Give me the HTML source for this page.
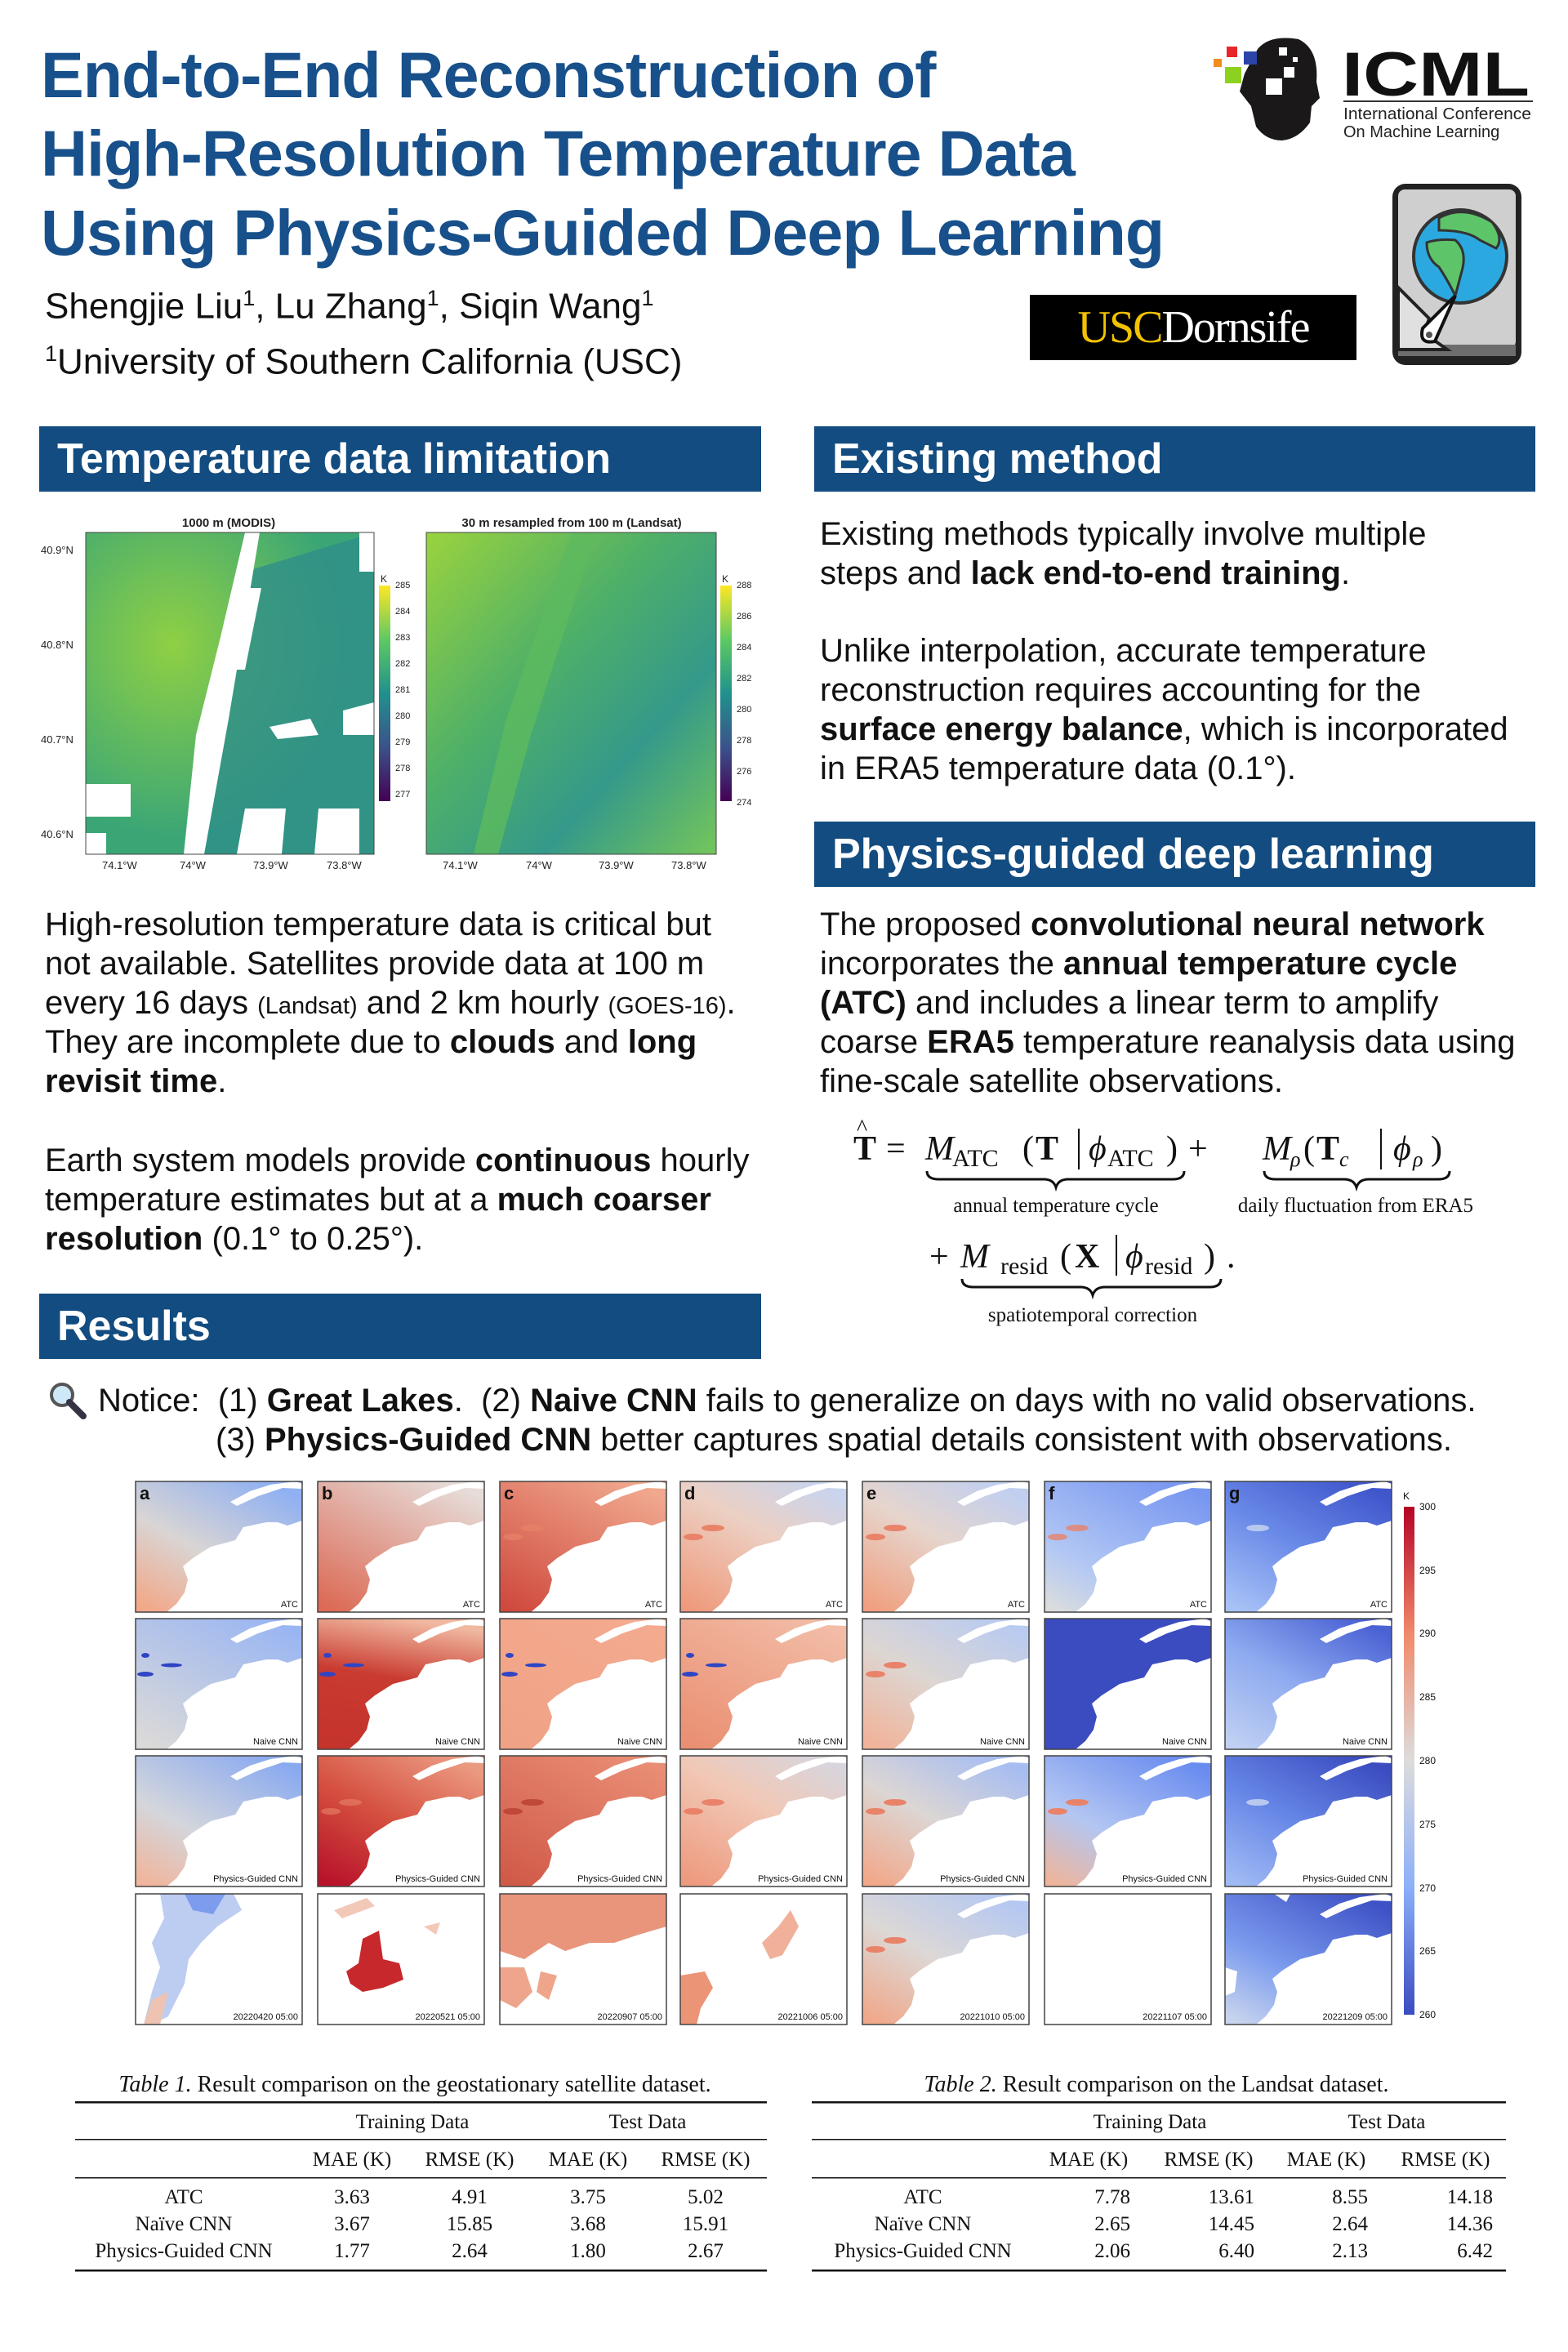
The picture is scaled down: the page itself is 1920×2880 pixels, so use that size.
<!DOCTYPE html>
<html><head><meta charset="utf-8">
<style>
*{margin:0;padding:0;box-sizing:border-box}
body{width:1920px;height:2880px;background:#fff;position:relative;font-family:"Liberation Sans","DejaVu Sans",sans-serif;color:#111;overflow:hidden}
.abs{position:absolute;white-space:nowrap}
.title{left:50px;font-weight:bold;font-size:79px;line-height:96px;color:#17508a;letter-spacing:-1px}
.hdr{position:absolute;background:#134c80;color:#fff;font-weight:bold;font-size:52px;padding-left:22px;line-height:80px}
.p{position:absolute;font-size:40px;line-height:48px;white-space:nowrap}
.serif{font-family:"Liberation Serif","DejaVu Serif",serif}
</style></head><body>

<div class="abs title" style="top:44px">End-to-End Reconstruction of</div>
<div class="abs title" style="top:140px">High-Resolution Temperature Data</div>
<div class="abs title" style="top:237px">Using Physics-Guided Deep Learning</div>
<div class="abs" style="left:55px;top:350px;font-size:44px">Shengjie Liu<sup style="font-size:27px">1</sup>, Lu Zhang<sup style="font-size:27px">1</sup>, Siqin Wang<sup style="font-size:27px">1</sup></div>
<div class="abs" style="left:55px;top:418px;font-size:44px"><sup style="font-size:27px">1</sup>University of Southern California (USC)</div>

<!-- USC Dornsife -->
<div class="abs serif" style="left:1261px;top:361px;width:400px;height:80px;background:#000;font-size:56px;line-height:80px;text-align:center;letter-spacing:-2px"><span style="color:#f2c200">USC</span><span style="color:#fff">Dornsife</span></div>

<!-- ICML logo -->
<svg class="abs" style="left:1480px;top:30px" width="420" height="160" viewBox="0 0 420 160">
<path d="M60 30 Q75 12 110 18 Q135 30 132 70 L136 90 L126 100 L124 120 Q110 140 90 142 Q70 142 58 125 L52 100 L38 82 L44 60 Z" fill="#1a1818"/>
<rect x="22" y="27" width="13" height="13" fill="#e8262a"/><rect x="43" y="33" width="16" height="16" fill="#2b44a8"/>
<rect x="6" y="42" width="10" height="10" fill="#f28c1c"/><rect x="20" y="52" width="20" height="20" fill="#8dd120"/>
<rect x="86" y="28" width="10" height="10" fill="#fff"/><rect x="92" y="52" width="13" height="13" fill="#fff"/><rect x="70" y="66" width="20" height="20" fill="#fff"/><rect x="103" y="40" width="6" height="6" fill="#fff"/>
<text x="163" y="87" font-family="Liberation Sans" font-weight="bold" font-size="76" fill="#111" textLength="230" lengthAdjust="spacingAndGlyphs">ICML</text>
<rect x="165" y="93" width="232" height="2" fill="#333"/>
<text x="165" y="116" font-size="20" fill="#222" textLength="230" lengthAdjust="spacingAndGlyphs">International Conference</text>
<text x="165" y="138" font-size="20" fill="#222">On Machine Learning</text>
</svg>

<!-- globe icon -->
<svg class="abs" style="left:1702px;top:222px" width="166" height="230" viewBox="0 0 166 230">
<rect x="3" y="3" width="158" height="222" rx="16" fill="#222"/>
<rect x="10" y="10" width="144" height="194" rx="8" fill="#cfcfcf"/>
<rect x="10" y="200" width="144" height="14" fill="#6d6d6d"/>
<circle cx="86" cy="92" r="57" fill="#2ca8e0" stroke="#333" stroke-width="4"/>
<path d="M60 45 Q90 28 125 50 Q140 70 130 82 L110 72 Q95 60 60 60 Z" fill="#5ec46a" stroke="#333" stroke-width="3"/>
<path d="M45 75 Q60 70 80 72 Q95 85 88 110 L80 140 Q70 120 60 105 Q45 95 45 75Z" fill="#5ec46a" stroke="#333" stroke-width="3"/>
<path d="M10 130 L48 168 L42 186 L70 206 L10 206 Z" fill="#e0e0e0" stroke="#222" stroke-width="4"/>
<path d="M80 140 L40 180 Q35 200 55 196 Z" fill="#fff" stroke="#111" stroke-width="4"/>
<circle cx="48" cy="188" r="4" fill="#555"/>
</svg>

<!-- Section headers -->
<div class="hdr" style="left:48px;top:522px;width:884px">Temperature data limitation</div>
<div class="hdr" style="left:997px;top:522px;width:883px">Existing method</div>
<div class="hdr" style="left:997px;top:1006px;width:883px">Physics-guided deep learning</div>
<div class="hdr" style="left:48px;top:1584px;width:884px">Results</div>

<!-- Left figure: maps -->
<svg class="abs" style="left:40px;top:620px" width="900" height="460" viewBox="40 620 900 460" font-family="Liberation Sans" font-size="12" fill="#222">
<defs>
<linearGradient id="vir" x1="0" y1="1" x2="0" y2="0"><stop offset="0" stop-color="#440154"/><stop offset=".25" stop-color="#3b528b"/><stop offset=".5" stop-color="#21918c"/><stop offset=".75" stop-color="#5ec962"/><stop offset="1" stop-color="#fde725"/></linearGradient>
<radialGradient id="m1" cx=".3" cy=".35" r=".6"><stop offset="0" stop-color="#8fd044"/><stop offset="1" stop-color="#3aa676"/></radialGradient>
<linearGradient id="m2" x1="0" y1="0" x2="1" y2="1"><stop offset="0" stop-color="#9ad33e"/><stop offset=".4" stop-color="#4fb068"/><stop offset=".7" stop-color="#34998a"/><stop offset="1" stop-color="#75c65a"/></linearGradient>
</defs>
<text x="280" y="645" font-weight="bold" font-size="15" text-anchor="middle">1000 m (MODIS)</text>
<text x="700" y="645" font-weight="bold" font-size="15" text-anchor="middle">30 m resampled from 100 m (Landsat)</text>
<rect x="105" y="652" width="353" height="394" fill="url(#m1)"/>
<path d="M300 700 L458 652 L458 1046 L250 1046 Z" fill="#2f8f8a" opacity=".8"/>
<path d="M300 652 L318 652 L300 760 L280 880 L250 1046 L225 1046 L240 900 L270 780 Z" fill="#fff"/>
<path d="M300 720 L320 720 L300 820 L285 820 Z M330 890 L380 880 L390 900 L340 905 Z M300 990 L350 990 L345 1046 L290 1046 Z M390 990 L440 990 L440 1046 L385 1046 Z M105 960 L160 960 L160 1000 L105 1000 Z M105 1020 L130 1020 L130 1046 L105 1046 Z M420 870 L458 860 L458 900 L420 900Z M440 652 L458 652 L458 700 L440 700Z" fill="#fff"/>
<rect x="105" y="652" width="353" height="394" fill="none" stroke="#444"/>
<rect x="464" y="717" width="14" height="264" fill="url(#vir)"/>
<text x="466" y="713">K</text>
<g font-size="11"><text x="484" y="720">285</text><text x="484" y="752">284</text><text x="484" y="784">283</text><text x="484" y="816">282</text><text x="484" y="848">281</text><text x="484" y="880">280</text><text x="484" y="912">279</text><text x="484" y="944">278</text><text x="484" y="976">277</text></g>
<g font-size="13"><text x="50" y="678">40.9°N</text><text x="50" y="794">40.8°N</text><text x="50" y="910">40.7°N</text><text x="50" y="1026">40.6°N</text>
<text x="125" y="1064">74.1°W</text><text x="220" y="1064">74°W</text><text x="310" y="1064">73.9°W</text><text x="400" y="1064">73.8°W</text>
<text x="542" y="1064">74.1°W</text><text x="644" y="1064">74°W</text><text x="733" y="1064">73.9°W</text><text x="822" y="1064">73.8°W</text></g>
<rect x="522" y="652" width="355" height="394" fill="url(#m2)"/>
<path d="M700 652 L730 652 L650 900 L610 1046 L580 1046 L620 880 Z" fill="#5cba5e" opacity=".8"/>
<rect x="522" y="652" width="355" height="394" fill="none" stroke="#444"/>
<rect x="882" y="717" width="14" height="264" fill="url(#vir)"/>
<text x="884" y="713">K</text>
<g font-size="11"><text x="902" y="720">288</text><text x="902" y="758">286</text><text x="902" y="796">284</text><text x="902" y="834">282</text><text x="902" y="872">280</text><text x="902" y="910">278</text><text x="902" y="948">276</text><text x="902" y="986">274</text></g>
</svg>

<!-- Right column texts -->
<div class="p" style="left:1004px;top:630px">Existing methods typically involve multiple</div>
<div class="p" style="left:1004px;top:678px">steps and <b>lack end-to-end training</b>.</div>
<div class="p" style="left:1004px;top:773px">Unlike interpolation, accurate temperature</div>
<div class="p" style="left:1004px;top:821px">reconstruction requires accounting for the</div>
<div class="p" style="left:1004px;top:869px"><b>surface energy balance</b>, which is incorporated</div>
<div class="p" style="left:1004px;top:917px">in ERA5 temperature data (0.1°).</div>

<div class="p" style="left:1004px;top:1108px">The proposed <b>convolutional neural network</b></div>
<div class="p" style="left:1004px;top:1156px">incorporates the <b>annual temperature cycle</b></div>
<div class="p" style="left:1004px;top:1204px"><b>(ATC)</b> and includes a linear term to amplify</div>
<div class="p" style="left:1004px;top:1252px">coarse <b>ERA5</b> temperature reanalysis data using</div>
<div class="p" style="left:1004px;top:1300px">fine-scale satellite observations.</div>

<!-- Equation -->
<svg class="abs" style="left:1000px;top:1360px" width="880" height="280" viewBox="0 0 880 280" font-family="Liberation Serif" fill="#111">
<g font-size="42">
<text x="45" y="60" font-weight="bold">T</text><text x="49" y="30" font-size="28">^</text>
<text x="85" y="60">=</text>
<text x="133" y="60" font-style="italic">M</text><text x="166" y="68" font-size="30">ATC</text>
<text x="252" y="60">(</text><text x="268" y="60" font-weight="bold">T</text>
<rect x="320" y="22" width="2" height="50"/>
<text x="333" y="60" font-style="italic">ϕ</text><text x="356" y="68" font-size="30">ATC</text><text x="428" y="60">)</text>
<text x="455" y="60">+</text>
<text x="546" y="60" font-style="italic">M</text><text x="580" y="68" font-size="26" font-style="italic">ρ</text>
<text x="596" y="60">(</text><text x="612" y="60" font-weight="bold">T</text><text x="640" y="68" font-size="26" font-style="italic">c</text>
<rect x="690" y="22" width="2" height="50"/>
<text x="706" y="60" font-style="italic">ϕ</text><text x="730" y="68" font-size="26" font-style="italic">ρ</text><text x="752" y="60">)</text>
<text x="138" y="192">+</text>
<text x="176" y="192" font-style="italic">M</text><text x="225" y="200" font-size="30">resid</text>
<text x="298" y="192">(</text><text x="316" y="192" font-weight="bold">X</text>
<rect x="366" y="152" width="2" height="50"/>
<text x="378" y="192" font-style="italic">ϕ</text><text x="402" y="200" font-size="30">resid</text><text x="474" y="192">)</text><text x="502" y="192">.</text>
</g>
<g fill="none" stroke="#111" stroke-width="3">
<path d="M135 74 Q135 84 150 84 L278 84 Q290 84 293 94 Q296 84 308 84 L436 84 Q450 84 450 74"/>
<path d="M548 74 Q548 84 562 84 L646 84 Q658 84 661 94 Q664 84 676 84 L761 84 Q775 84 775 74"/>
<path d="M178 206 Q178 216 192 216 L323 216 Q335 216 338 226 Q341 216 353 216 L481 216 Q495 216 495 206"/>
</g>
<g font-size="25">
<text x="293" y="124" text-anchor="middle">annual temperature cycle</text>
<text x="660" y="124" text-anchor="middle">daily fluctuation from ERA5</text>
<text x="338" y="258" text-anchor="middle">spatiotemporal correction</text>
</g>
</svg>

<!-- Left column texts -->
<div class="p" style="left:55px;top:1108px">High-resolution temperature data is critical but</div>
<div class="p" style="left:55px;top:1156px">not available. Satellites provide data at 100 m</div>
<div class="p" style="left:55px;top:1204px">every 16 days <span style="font-size:29px">(Landsat)</span> and 2 km hourly <span style="font-size:29px">(GOES-16)</span>.</div>
<div class="p" style="left:55px;top:1252px">They are incomplete due to <b>clouds</b> and <b>long</b></div>
<div class="p" style="left:55px;top:1300px"><b>revisit time</b>.</div>
<div class="p" style="left:55px;top:1397px">Earth system models provide <b>continuous</b> hourly</div>
<div class="p" style="left:55px;top:1445px">temperature estimates but at a <b>much coarser</b></div>
<div class="p" style="left:55px;top:1493px"><b>resolution</b> (0.1° to 0.25°).</div>

<!-- Notice -->
<svg class="abs" style="left:58px;top:1690px" width="52" height="50" viewBox="0 0 52 50">
<circle cx="18" cy="18" r="13" fill="#cfe8f7" stroke="#555" stroke-width="4"/>
<path d="M27 27 L44 44" stroke="#334" stroke-width="8" stroke-linecap="round"/>
</svg>
<div class="p" style="left:120px;top:1691px">Notice:&nbsp; (1) <b>Great Lakes</b>.&nbsp; (2) <b>Naive CNN</b> fails to generalize on days with no valid observations.</div>
<div class="p" style="left:264px;top:1739px">(3) <b>Physics-Guided CNN</b> better captures spatial details consistent with observations.</div>

<!-- Results figure -->
<svg class="abs" style="left:0;top:1800px" width="1920" height="700" viewBox="0 1800 1920 700" font-family="Liberation Sans" fill="#111">
<defs>
<symbol id="oc" viewBox="0 0 204 160" width="204" height="160">
<path d="M204 48 L186 54 L174 50 L160 50 L132 56 L122 72 L92 80 L70 94 L58 104 L64 120 L60 136 L50 150 L38 160 L204 160 Z" fill="#fff"/>
<path d="M116 25 L140 12 L165 4 L196 0 L204 3 L204 9 L180 8 L150 18 L124 30 Z" fill="#fff"/>
</symbol>
<linearGradient id="cw" x1="0" y1="0" x2="0" y2="1"><stop offset="0" stop-color="#b40426"/><stop offset=".25" stop-color="#f08a6b"/><stop offset=".5" stop-color="#dddcdc"/><stop offset=".75" stop-color="#8caff8"/><stop offset="1" stop-color="#3b4cc0"/></linearGradient>
<linearGradient id="a1" x1=".8" y1="0" x2=".1" y2="1"><stop offset="0" stop-color="#8fb0f2"/><stop offset=".55" stop-color="#d9d5d4"/><stop offset="1" stop-color="#f2a889"/></linearGradient>
<linearGradient id="b1" x1=".8" y1="0" x2=".1" y2="1"><stop offset="0" stop-color="#e6dcd8"/><stop offset="1" stop-color="#dc6a55"/></linearGradient>
<linearGradient id="c1" x1=".8" y1="0" x2=".1" y2="1"><stop offset="0" stop-color="#f0a88e"/><stop offset="1" stop-color="#cf4a3e"/></linearGradient>
<linearGradient id="d1" x1=".8" y1="0" x2=".1" y2="1"><stop offset="0" stop-color="#c9d4ee"/><stop offset=".4" stop-color="#ecd0c3"/><stop offset="1" stop-color="#ef9a7c"/></linearGradient>
<linearGradient id="e1" x1=".8" y1="0" x2=".1" y2="1"><stop offset="0" stop-color="#c0cff0"/><stop offset=".45" stop-color="#e6d5cd"/><stop offset="1" stop-color="#f0a080"/></linearGradient>
<linearGradient id="f1" x1=".8" y1="0" x2=".1" y2="1"><stop offset="0" stop-color="#7796f0"/><stop offset=".7" stop-color="#b3c8f4"/><stop offset="1" stop-color="#dadcde"/></linearGradient>
<linearGradient id="g1" x1=".8" y1="0" x2=".1" y2="1"><stop offset="0" stop-color="#3f56cc"/><stop offset=".5" stop-color="#6a8ae8"/><stop offset="1" stop-color="#a8c2f6"/></linearGradient>
<linearGradient id="a2" x1=".8" y1="0" x2=".1" y2="1"><stop offset="0" stop-color="#9ab6f2"/><stop offset="1" stop-color="#dcdad8"/></linearGradient>
<linearGradient id="b2" x1=".5" y1="0" x2=".3" y2="1"><stop offset="0" stop-color="#f0b8a0"/><stop offset=".45" stop-color="#c93a30"/><stop offset="1" stop-color="#c5332c"/></linearGradient>
<linearGradient id="c2" x1=".8" y1="0" x2=".1" y2="1"><stop offset="0" stop-color="#f3aa8f"/><stop offset="1" stop-color="#f0a285"/></linearGradient>
<linearGradient id="d2" x1=".8" y1="0" x2=".1" y2="1"><stop offset="0" stop-color="#f2bca6"/><stop offset="1" stop-color="#ea8f72"/></linearGradient>
<linearGradient id="e2" x1=".8" y1="0" x2=".1" y2="1"><stop offset="0" stop-color="#b9cbf0"/><stop offset=".5" stop-color="#ddd6d2"/><stop offset="1" stop-color="#f1b399"/></linearGradient>
<linearGradient id="f2"><stop offset="0" stop-color="#3b4cc0"/><stop offset="1" stop-color="#3b4cc0"/></linearGradient>
<linearGradient id="g2" x1=".8" y1="0" x2=".1" y2="1"><stop offset="0" stop-color="#4a62d4"/><stop offset=".5" stop-color="#8eaaf0"/><stop offset="1" stop-color="#bfd0f2"/></linearGradient>
<linearGradient id="a3" x1=".8" y1="0" x2=".1" y2="1"><stop offset="0" stop-color="#8aaaf0"/><stop offset=".6" stop-color="#d4d6dc"/><stop offset="1" stop-color="#f0b59c"/></linearGradient>
<linearGradient id="b3" x1=".8" y1="0" x2=".1" y2="1"><stop offset="0" stop-color="#eb9a82"/><stop offset=".5" stop-color="#d5503f"/><stop offset="1" stop-color="#b8122a"/></linearGradient>
<linearGradient id="c3" x1=".8" y1="0" x2=".1" y2="1"><stop offset="0" stop-color="#e98d75"/><stop offset="1" stop-color="#d05a48"/></linearGradient>
<linearGradient id="d3" x1=".8" y1="0" x2=".1" y2="1"><stop offset="0" stop-color="#d8d5dc"/><stop offset=".4" stop-color="#f1c8b6"/><stop offset="1" stop-color="#ee9a7e"/></linearGradient>
<linearGradient id="e3" x1=".8" y1="0" x2=".1" y2="1"><stop offset="0" stop-color="#a6bdf2"/><stop offset=".5" stop-color="#dcd6d4"/><stop offset="1" stop-color="#f2a88a"/></linearGradient>
<linearGradient id="f3" x1=".8" y1="0" x2=".1" y2="1"><stop offset="0" stop-color="#6a8cf0"/><stop offset=".6" stop-color="#b3c6f2"/><stop offset="1" stop-color="#eeb59c"/></linearGradient>
<linearGradient id="g3" x1=".8" y1="0" x2=".1" y2="1"><stop offset="0" stop-color="#3b4cc0"/><stop offset=".5" stop-color="#6585e6"/><stop offset="1" stop-color="#a0baf4"/></linearGradient>
<linearGradient id="e4" x1=".8" y1="0" x2=".1" y2="1"><stop offset="0" stop-color="#b5c8f2"/><stop offset=".5" stop-color="#dcd8d6"/><stop offset="1" stop-color="#f0a88a"/></linearGradient>
<linearGradient id="g4" x1=".8" y1="0" x2=".1" y2="1"><stop offset="0" stop-color="#3e52c6"/><stop offset=".6" stop-color="#7c9cee"/><stop offset="1" stop-color="#c8d4ee"/></linearGradient>
<g id="lk"><ellipse cx="12" cy="45" rx="5" ry="3" fill="#2f45c4"/><ellipse cx="44" cy="57" rx="13" ry="2.5" fill="#2f45c4"/><ellipse cx="12" cy="68" rx="10" ry="3" fill="#2f45c4"/></g>
<g id="lk2"><ellipse cx="40" cy="57" rx="14" ry="4" fill="#e8836a"/><ellipse cx="16" cy="68" rx="12" ry="4" fill="#e8836a"/></g>
</defs>

<g font-size="11">
<g transform="translate(166,1814)"><rect width="204" height="160" fill="url(#a1)"/><use href="#oc"/><rect width="204" height="160" fill="none" stroke="#444" stroke-width="1.5"/><text x="5" y="22" font-weight="bold" font-size="22">a</text><text x="199" y="154" text-anchor="end">ATC</text></g>
<g transform="translate(389,1814)"><rect width="204" height="160" fill="url(#b1)"/><use href="#oc"/><rect width="204" height="160" fill="none" stroke="#444" stroke-width="1.5"/><text x="5" y="22" font-weight="bold" font-size="22">b</text><text x="199" y="154" text-anchor="end">ATC</text></g>
<g transform="translate(612,1814)"><rect width="204" height="160" fill="url(#c1)"/><use href="#lk2" opacity=".7"/><use href="#oc"/><rect width="204" height="160" fill="none" stroke="#444" stroke-width="1.5"/><text x="5" y="22" font-weight="bold" font-size="22">c</text><text x="199" y="154" text-anchor="end">ATC</text></g>
<g transform="translate(833,1814)"><rect width="204" height="160" fill="url(#d1)"/><use href="#lk2"/><use href="#oc"/><rect width="204" height="160" fill="none" stroke="#444" stroke-width="1.5"/><text x="5" y="22" font-weight="bold" font-size="22">d</text><text x="199" y="154" text-anchor="end">ATC</text></g>
<g transform="translate(1056,1814)"><rect width="204" height="160" fill="url(#e1)"/><use href="#lk2"/><use href="#oc"/><rect width="204" height="160" fill="none" stroke="#444" stroke-width="1.5"/><text x="5" y="22" font-weight="bold" font-size="22">e</text><text x="199" y="154" text-anchor="end">ATC</text></g>
<g transform="translate(1279,1814)"><rect width="204" height="160" fill="url(#f1)"/><use href="#lk2" opacity=".8"/><use href="#oc"/><rect width="204" height="160" fill="none" stroke="#444" stroke-width="1.5"/><text x="5" y="22" font-weight="bold" font-size="22">f</text><text x="199" y="154" text-anchor="end">ATC</text></g>
<g transform="translate(1500,1814)"><rect width="204" height="160" fill="url(#g1)"/><ellipse cx="40" cy="57" rx="14" ry="4" fill="#b9c9ee"/><use href="#oc"/><rect width="204" height="160" fill="none" stroke="#444" stroke-width="1.5"/><text x="5" y="22" font-weight="bold" font-size="22">g</text><text x="199" y="154" text-anchor="end">ATC</text></g>

<g transform="translate(166,1982)"><rect width="204" height="160" fill="url(#a2)"/><use href="#lk"/><use href="#oc"/><rect width="204" height="160" fill="none" stroke="#444" stroke-width="1.5"/><text x="199" y="154" text-anchor="end">Naive CNN</text></g>
<g transform="translate(389,1982)"><rect width="204" height="160" fill="url(#b2)"/><use href="#lk"/><use href="#oc"/><rect width="204" height="160" fill="none" stroke="#444" stroke-width="1.5"/><text x="199" y="154" text-anchor="end">Naive CNN</text></g>
<g transform="translate(612,1982)"><rect width="204" height="160" fill="url(#c2)"/><use href="#lk"/><use href="#oc"/><rect width="204" height="160" fill="none" stroke="#444" stroke-width="1.5"/><text x="199" y="154" text-anchor="end">Naive CNN</text></g>
<g transform="translate(833,1982)"><rect width="204" height="160" fill="url(#d2)"/><use href="#lk"/><use href="#oc"/><rect width="204" height="160" fill="none" stroke="#444" stroke-width="1.5"/><text x="199" y="154" text-anchor="end">Naive CNN</text></g>
<g transform="translate(1056,1982)"><rect width="204" height="160" fill="url(#e2)"/><use href="#lk2"/><use href="#oc"/><rect width="204" height="160" fill="none" stroke="#444" stroke-width="1.5"/><text x="199" y="154" text-anchor="end">Naive CNN</text></g>
<g transform="translate(1279,1982)"><rect width="204" height="160" fill="url(#f2)"/><use href="#oc"/><rect width="204" height="160" fill="none" stroke="#444" stroke-width="1.5"/><text x="199" y="154" text-anchor="end">Naive CNN</text></g>
<g transform="translate(1500,1982)"><rect width="204" height="160" fill="url(#g2)"/><use href="#oc"/><rect width="204" height="160" fill="none" stroke="#444" stroke-width="1.5"/><text x="199" y="154" text-anchor="end">Naive CNN</text></g>

<g transform="translate(166,2150)"><rect width="204" height="160" fill="url(#a3)"/><use href="#oc"/><rect width="204" height="160" fill="none" stroke="#444" stroke-width="1.5"/><text x="199" y="154" text-anchor="end">Physics-Guided CNN</text></g>
<g transform="translate(389,2150)"><rect width="204" height="160" fill="url(#b3)"/><use href="#lk2" opacity=".6"/><use href="#oc"/><rect width="204" height="160" fill="none" stroke="#444" stroke-width="1.5"/><text x="199" y="154" text-anchor="end">Physics-Guided CNN</text></g>
<g transform="translate(612,2150)"><rect width="204" height="160" fill="url(#c3)"/><ellipse cx="40" cy="57" rx="14" ry="4" fill="#c04838"/><ellipse cx="16" cy="68" rx="12" ry="4" fill="#c04838"/><use href="#oc"/><rect width="204" height="160" fill="none" stroke="#444" stroke-width="1.5"/><text x="199" y="154" text-anchor="end">Physics-Guided CNN</text></g>
<g transform="translate(833,2150)"><rect width="204" height="160" fill="url(#d3)"/><use href="#lk2"/><use href="#oc"/><rect width="204" height="160" fill="none" stroke="#444" stroke-width="1.5"/><text x="199" y="154" text-anchor="end">Physics-Guided CNN</text></g>
<g transform="translate(1056,2150)"><rect width="204" height="160" fill="url(#e3)"/><use href="#lk2"/><use href="#oc"/><rect width="204" height="160" fill="none" stroke="#444" stroke-width="1.5"/><text x="199" y="154" text-anchor="end">Physics-Guided CNN</text></g>
<g transform="translate(1279,2150)"><rect width="204" height="160" fill="url(#f3)"/><use href="#lk2"/><use href="#oc"/><rect width="204" height="160" fill="none" stroke="#444" stroke-width="1.5"/><text x="199" y="154" text-anchor="end">Physics-Guided CNN</text></g>
<g transform="translate(1500,2150)"><rect width="204" height="160" fill="url(#g3)"/><ellipse cx="40" cy="57" rx="14" ry="4" fill="#b9c9ee"/><use href="#oc"/><rect width="204" height="160" fill="none" stroke="#444" stroke-width="1.5"/><text x="199" y="154" text-anchor="end">Physics-Guided CNN</text></g>

<g transform="translate(166,2319)"><rect width="204" height="160" fill="#fff"/>
<path d="M30 0 L120 0 L130 20 L100 40 L80 60 L65 80 L60 110 L40 150 L20 160 L10 160 L20 120 L30 90 L20 60 L35 30 Z" fill="#b6c8f0" opacity=".9"/><path d="M60 0 L110 0 L95 25 L70 20Z" fill="#7d9cee"/><path d="M20 130 L40 120 L30 160 L10 160Z" fill="#efc3b1"/>
<rect width="204" height="160" fill="none" stroke="#444" stroke-width="1.5"/><text x="199" y="154" text-anchor="end">20220420 05:00</text></g>
<g transform="translate(389,2319)"><rect width="204" height="160" fill="#fff"/>
<path d="M55 55 L75 45 L80 80 L100 85 L105 105 L80 115 L55 120 L40 110 L35 95 L50 85 Z" fill="#c6282c"/><path d="M20 20 L60 5 L70 15 L30 30Z M130 40 L150 35 L145 50Z" fill="#f2c8b8"/>
<rect width="204" height="160" fill="none" stroke="#444" stroke-width="1.5"/><text x="199" y="154" text-anchor="end">20220521 05:00</text></g>
<g transform="translate(612,2319)"><rect width="204" height="160" fill="#fff"/>
<path d="M0 0 L204 0 L204 40 L170 50 L140 60 L110 60 L80 70 L60 60 L30 80 L0 70 Z" fill="#e9957c"/><path d="M0 90 L30 90 L40 120 L20 140 L0 130 Z M50 95 L70 100 L60 130 L45 120Z" fill="#efa58c"/>
<rect width="204" height="160" fill="none" stroke="#444" stroke-width="1.5"/><text x="199" y="154" text-anchor="end">20220907 05:00</text></g>
<g transform="translate(833,2319)"><rect width="204" height="160" fill="#fff"/>
<path d="M0 100 L30 95 L40 115 L25 140 L20 160 L0 160 Z" fill="#ec9476"/><path d="M100 60 L120 40 L135 20 L145 40 L125 75 L110 80Z" fill="#f0b09a"/>
<rect width="204" height="160" fill="none" stroke="#444" stroke-width="1.5"/><text x="199" y="154" text-anchor="end">20221006 05:00</text></g>
<g transform="translate(1056,2319)"><rect width="204" height="160" fill="url(#e4)"/><use href="#lk2"/><use href="#oc"/><rect width="204" height="160" fill="none" stroke="#444" stroke-width="1.5"/><text x="199" y="154" text-anchor="end">20221010 05:00</text></g>
<g transform="translate(1279,2319)"><rect width="204" height="160" fill="#fff"/><rect width="204" height="160" fill="none" stroke="#444" stroke-width="1.5"/><text x="199" y="154" text-anchor="end">20221107 05:00</text></g>
<g transform="translate(1500,2319)"><rect width="204" height="160" fill="url(#g4)"/><use href="#oc"/><path d="M0 90 L15 95 L12 120 L0 125Z M60 0 L80 0 L75 10Z" fill="#fff"/><rect width="204" height="160" fill="none" stroke="#444" stroke-width="1.5"/><text x="199" y="154" text-anchor="end">20221209 05:00</text></g>
</g>

<rect x="1719" y="1845" width="13" height="622" fill="url(#cw)"/>
<g font-size="12"><text x="1718" y="1836">K</text>
<text x="1738" y="1849">300</text><text x="1738" y="1927">295</text><text x="1738" y="2004">290</text><text x="1738" y="2082">285</text><text x="1738" y="2160">280</text><text x="1738" y="2238">275</text><text x="1738" y="2316">270</text><text x="1738" y="2393">265</text><text x="1738" y="2471">260</text></g>
</svg>

<!-- Tables -->
<svg class="abs" style="left:0;top:2520px" width="1920" height="300" viewBox="0 2520 1920 300" font-family="Liberation Serif" fill="#111" font-size="25">
<text x="508" y="2561" text-anchor="middle" font-size="28"><tspan font-style="italic">Table 1.</tspan> Result comparison on the geostationary satellite dataset.</text>
<rect x="92" y="2573" width="847" height="2.5"/><rect x="92" y="2619" width="847" height="1.5"/><rect x="92" y="2666" width="847" height="1.5"/><rect x="92" y="2779" width="847" height="2.5"/>
<text x="505" y="2606" text-anchor="middle">Training Data</text><text x="793" y="2606" text-anchor="middle">Test Data</text>
<text x="431" y="2652" text-anchor="middle">MAE (K)</text><text x="575" y="2652" text-anchor="middle">RMSE (K)</text><text x="720" y="2652" text-anchor="middle">MAE (K)</text><text x="864" y="2652" text-anchor="middle">RMSE (K)</text>
<g text-anchor="middle">
<text x="225" y="2698">ATC</text><text x="431" y="2698">3.63</text><text x="575" y="2698">4.91</text><text x="720" y="2698">3.75</text><text x="864" y="2698">5.02</text>
<text x="225" y="2731">Naïve CNN</text><text x="431" y="2731">3.67</text><text x="575" y="2731">15.85</text><text x="720" y="2731">3.68</text><text x="864" y="2731">15.91</text>
<text x="225" y="2764">Physics-Guided CNN</text><text x="431" y="2764">1.77</text><text x="575" y="2764">2.64</text><text x="720" y="2764">1.80</text><text x="864" y="2764">2.67</text>
</g>
<text x="1416" y="2561" text-anchor="middle" font-size="28"><tspan font-style="italic">Table 2.</tspan> Result comparison on the Landsat dataset.</text>
<rect x="994" y="2573" width="850" height="2.5"/><rect x="994" y="2619" width="850" height="1.5"/><rect x="994" y="2666" width="850" height="1.5"/><rect x="994" y="2779" width="850" height="2.5"/>
<text x="1408" y="2606" text-anchor="middle">Training Data</text><text x="1698" y="2606" text-anchor="middle">Test Data</text>
<text x="1333" y="2652" text-anchor="middle">MAE (K)</text><text x="1480" y="2652" text-anchor="middle">RMSE (K)</text><text x="1624" y="2652" text-anchor="middle">MAE (K)</text><text x="1770" y="2652" text-anchor="middle">RMSE (K)</text>
<text x="1130" y="2698" text-anchor="middle">ATC</text><text x="1130" y="2731" text-anchor="middle">Naïve CNN</text><text x="1130" y="2764" text-anchor="middle">Physics-Guided CNN</text>
<g text-anchor="end">
<text x="1384" y="2698">7.78</text><text x="1536" y="2698">13.61</text><text x="1675" y="2698">8.55</text><text x="1828" y="2698">14.18</text>
<text x="1384" y="2731">2.65</text><text x="1536" y="2731">14.45</text><text x="1675" y="2731">2.64</text><text x="1828" y="2731">14.36</text>
<text x="1384" y="2764">2.06</text><text x="1536" y="2764">6.40</text><text x="1675" y="2764">2.13</text><text x="1828" y="2764">6.42</text>
</g>
</svg>
</body></html>
